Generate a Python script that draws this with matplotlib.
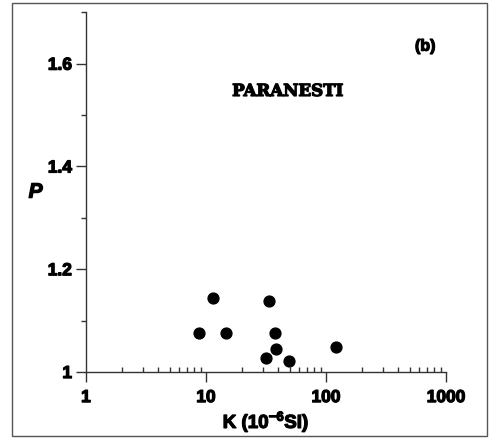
import matplotlib
matplotlib.use("Agg")
import matplotlib.pyplot as plt
import matplotlib.patheffects as pe
from matplotlib.patches import Rectangle
from matplotlib.ticker import MultipleLocator, LogLocator, NullFormatter

# susceptibility K (10^-6 SI) and anisotropy degree P
k_values = [8.7, 11.4, 14.7, 33.3, 37.3, 38.5, 31.8, 49.5, 121]
p_values = [1.075, 1.145, 1.075, 1.139, 1.075, 1.045, 1.028, 1.021, 1.048]

x_ticks = [1, 10, 100, 1000]
x_labels = ["1", "10", "100", "1000"]
y_ticks = [1.0, 1.2, 1.4, 1.6]
y_labels = ["1", "1.2", "1.4", "1.6"]

plt.rcParams['font.family'] = ['Liberation Sans', 'DejaVu Sans']
plt.rcParams['mathtext.fontset'] = 'custom'
plt.rcParams['mathtext.rm'] = 'Liberation Sans:bold'
plt.rcParams['mathtext.bf'] = 'Liberation Sans:bold'

heavy = [pe.withStroke(linewidth=0.9, foreground='black')]

fig = plt.figure(figsize=(4.93, 4.40), dpi=100)
ax = fig.add_axes([0.1744, 0.1545, 0.7303, 0.8175])

ax.plot(k_values, p_values, 'o', color='black', markersize=7.8, linestyle='none')

ax.set_xscale('log')
ax.set_xlim(1, 1000)
ax.set_ylim(1.0, 1.7)

ax.set_xticks(x_ticks)
ax.set_xticklabels(x_labels, fontweight='bold', fontsize=12.5, path_effects=heavy)
ax.xaxis.set_minor_locator(LogLocator(base=10, subs=range(2, 10)))
ax.xaxis.set_minor_formatter(NullFormatter())

ax.set_yticks(y_ticks)
ax.set_yticklabels(y_labels, fontweight='bold', fontsize=12.5, path_effects=heavy)
ax.yaxis.set_minor_locator(MultipleLocator(0.1))

for side in ['top', 'right']:
    ax.spines[side].set_visible(False)
for side in ['left', 'bottom']:
    ax.spines[side].set_color('#333333')
    ax.spines[side].set_linewidth(1.0)

ax.tick_params(axis='x', which='major', direction='out', length=7, width=1, pad=6, color='#333333')
ax.tick_params(axis='x', which='minor', direction='in', length=3.5, width=1, color='#333333')
ax.tick_params(axis='y', which='major', direction='out', length=7, width=1, pad=3, color='#333333')
ax.tick_params(axis='y', which='minor', direction='out', length=3.5, width=1, color='#333333')

ax.set_xlabel(r'K (10$^{-6}$SI)', fontweight='bold', fontsize=13.5, labelpad=3,
              path_effects=heavy)
ax.text(-0.14, 0.5, 'P', transform=ax.transAxes, fontsize=15, fontweight='bold',
        fontstyle='italic', ha='center', va='center', path_effects=heavy)

ax.text(47.8, 1.546, 'PARANESTI', family='DejaVu Serif', fontweight='bold',
        fontsize=12, ha='center', va='center', path_effects=heavy)
ax.text(0.942, 0.906, '(b)', transform=ax.transAxes, fontweight='bold',
        fontsize=11.5, ha='center', va='center', path_effects=heavy)

# outer frame round the figure
fig.patches.append(Rectangle((0.0237, 0.009), 0.964, 0.984, transform=fig.transFigure,
                             fill=False, edgecolor='#555555', linewidth=1.0))

fig.savefig('out.png', dpi=100)
